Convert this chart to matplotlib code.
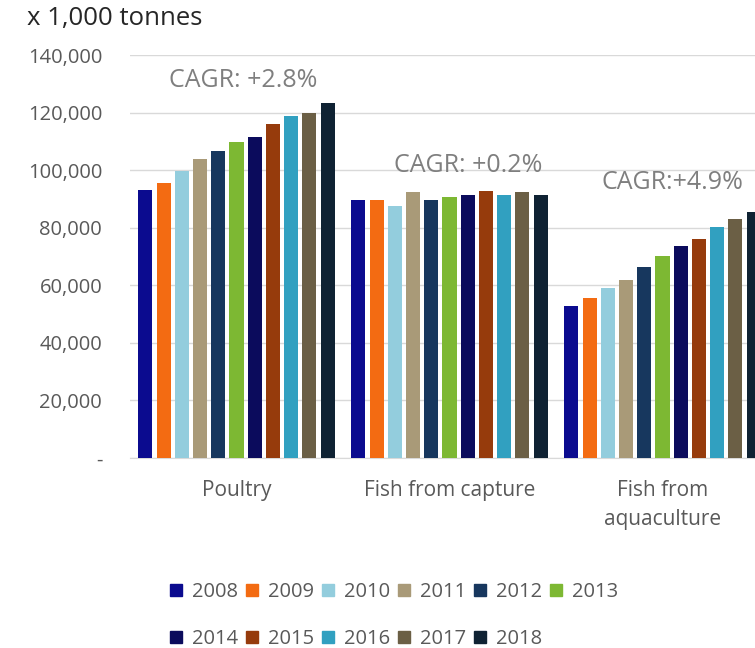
import matplotlib.pyplot as plt
from matplotlib.lines import Line2D
import numpy as np

plt.rcParams['font.family'] = ['Open Sans', 'DejaVu Sans']

categories = ["Poultry", "Fish from capture", "Fish from\naquaculture"]
years = ["2008", "2009", "2010", "2011", "2012", "2013",
         "2014", "2015", "2016", "2017", "2018"]
poultry = [93000, 95700, 99800, 103900, 106500, 109700,
           111500, 116100, 118900, 120000, 123400]
capture = [89600, 89600, 87700, 92300, 89500, 90600,
           91200, 92800, 91200, 92300, 91200]
aquaculture = [52800, 55600, 58900, 61800, 66200, 70300,
               73600, 76000, 80400, 83200, 85500]
cagr = ["CAGR: +2.8%", "CAGR: +0.2%", "CAGR:+4.9%"]
cagr_x = [0.03, 1.087, 2.045]
cagr_y = [131000, 101700, 95800]
colors = ["#0b0b8f", "#f36b12", "#93cddd", "#a99a78", "#17375e", "#7db833",
          "#0b0b5c", "#963b0c", "#31a0c0", "#6b5f45", "#0f2233"]

W, H = 755, 648
fig = plt.figure(figsize=(W / 100, H / 100), dpi=100)
ax = fig.add_axes([130 / W, (H - 458) / H, (W - 130) / W, 403 / H])

x = np.arange(len(categories))
step = 0.0855
width = 0.066
for i, yr in enumerate(years):
    vals = [poultry[i], capture[i], aquaculture[i]]
    ax.bar(x + (i - 5) * step, vals, width, color=colors[i], label=yr, zorder=3)

ax.set_ylim(0, 140000)
ax.set_xlim(-0.5, 2.5 - 14 / 213)
ax.set_yticks(range(0, 140001, 20000))
ax.set_yticklabels(["-"] + [f"{v:,}" for v in range(20000, 140001, 20000)])
ax.grid(axis="y", color="#d9d9d9", linewidth=1, zorder=0)
for s in ["top", "right", "left"]:
    ax.spines[s].set_visible(False)
ax.spines["bottom"].set_color("#d9d9d9")
ax.tick_params(axis="y", length=0, labelsize=14.5, labelcolor="#595959", pad=20)
ax.tick_params(axis="x", length=0, labelsize=15, labelcolor="#595959", pad=16)
ax.set_xticks(x)
ax.set_xticklabels(categories, linespacing=1.5)

for i, t in enumerate(cagr):
    ax.text(cagr_x[i], cagr_y[i], t, ha="center", va="center",
            fontsize=18, color="#7f7f7f")

fig.text(27 / W, 1 - 18 / H, "x 1,000 tonnes", fontsize=18.5, color="#262626", va="center")

# legend laid out as two rows (column-major ordering)
handles = [Line2D([], [], marker="s", linestyle="none", markersize=8,
                  color=c) for c in colors]
order = [0, 6, 1, 7, 2, 8, 3, 9, 4, 10, 5]
fig.legend([handles[k] for k in order], [years[k] for k in order],
           ncol=6, loc="upper left", bbox_to_anchor=(151 / W, 1 - 564 / H),
           frameon=False, fontsize=14.5, handlelength=0.7, handletextpad=0.45,
           columnspacing=0.33, labelspacing=1.32, labelcolor="#595959")

fig.savefig("out.png", dpi=100)
